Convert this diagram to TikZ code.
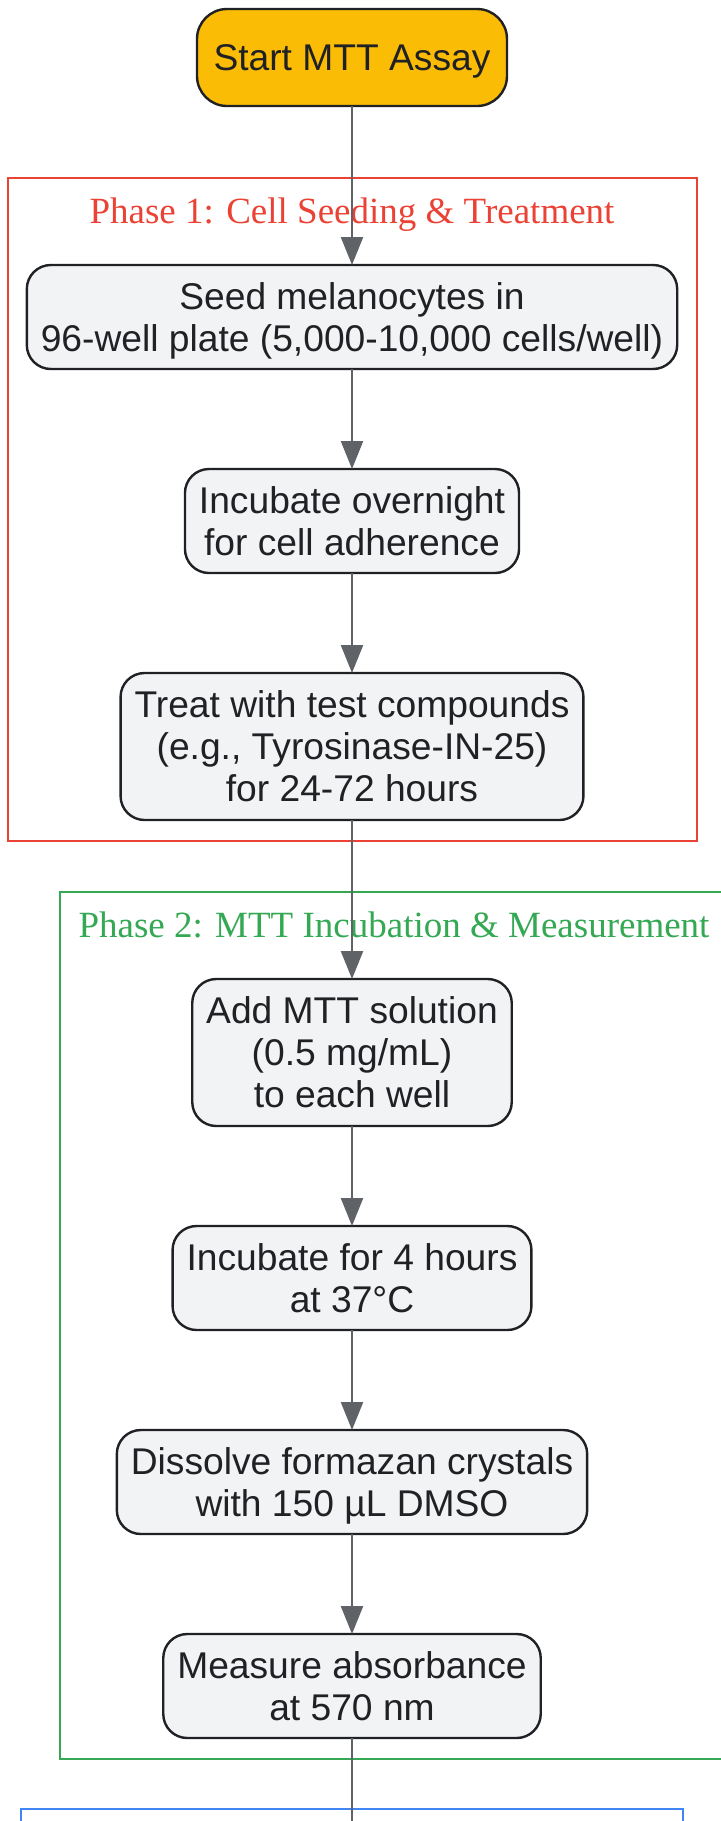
\documentclass[tikz,border=0pt]{standalone}
\usepackage{fontspec}
\setmainfont{Liberation Sans}
\newfontfamily\titlefont{Liberation Serif}
\usetikzlibrary{positioning, arrows.meta}
\definecolor{ink}{HTML}{202124}
\definecolor{boxgrey}{HTML}{F1F3F4}
\definecolor{startyellow}{HTML}{FBBC05}
\definecolor{edgegrey}{HTML}{5F6368}
\definecolor{phasered}{HTML}{EA4335}
\definecolor{phasegreen}{HTML}{34A853}
\definecolor{phaseblue}{HTML}{4285F4}

\begin{document}
\begin{tikzpicture}[x=0.5pt, y=-0.5pt, node distance={50pt}, line width=1.2pt,
  main/.style = {draw=ink, fill=boxgrey, rounded corners=12pt, align=center, inner xsep=7pt, inner ysep=0pt, outer sep=0pt, minimum height=52pt, text depth=0pt, text=ink, font=\fontsize{18.6}{21}\selectfont},
  tall/.style = {main, minimum height=73.5pt},
  start/.style = {main, fill=startyellow, rounded corners=15pt, minimum width=155pt, minimum height=48.5pt},
  phase/.style = {font=\titlefont\fontsize{18.5}{21}\selectfont, inner sep=0pt, anchor=base},
  arr/.style = {draw=edgegrey, -{Triangle[length=14pt, width=11pt]}}]
\useasboundingbox (0,0) rectangle (721,1821);

% phase boxes
\draw[phasered, line width=1pt] (8,178) rectangle (697,841);
\draw[phasegreen, line width=1pt] (60,892) rectangle (728,1759);
\draw[phaseblue, line width=1pt] (21,1809) rectangle (683,1850);
\node[phase, text=phasered] (p1) at (352,223) {Phase 1: Cell Seeding \& Treatment};
\node[phase, text=phasegreen] (p2) at (394,937) {Phase 2: MTT Incubation \& Measurement};

\node[start] (0) at (352,57.5) {Start MTT Assay};
\node[main] (1) [below=79.5pt of 0] {Seed melanocytes in\\96-well plate (5,000-10,000 cells/well)};
\node[main] (2) [below=of 1] {Incubate overnight\\for cell adherence};
\node[tall] (3) [below=of 2] {Treat with test compounds\\(e.g., Tyrosinase-IN-25)\\for 24-72 hours};
\node[tall] (4) [below=79.5pt of 3] {Add MTT solution\\(0.5 mg/mL)\\to each well};
\node[main] (5) [below=of 4] {Incubate for 4 hours\\at 37°C};
\node[main] (6) [below=of 5] {Dissolve formazan crystals\\with 150 µL DMSO};
\node[main] (7) [below=of 6] {Measure absorbance\\at 570 nm};
\coordinate (8) at (352,1830);

\draw[arr] (0) -- (1);
\draw[arr] (1) -- (2);
\draw[arr] (2) -- (3);
\draw[arr] (3) -- (4);
\draw[arr] (4) -- (5);
\draw[arr] (5) -- (6);
\draw[arr] (6) -- (7);
\draw[draw=edgegrey] (7) -- (8);

\end{tikzpicture}
\end{document}
